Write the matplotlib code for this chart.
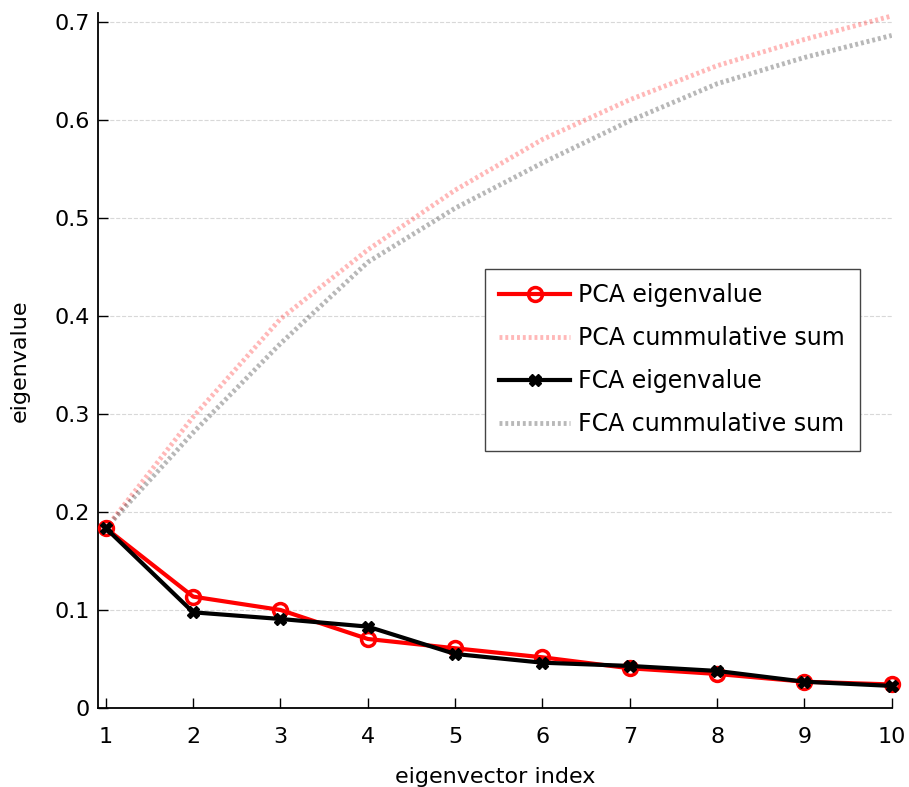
import numpy as np
import matplotlib
matplotlib.use("Agg")
import matplotlib.pyplot as plt

index = np.arange(1, 11)
pca_eig = [0.1834, 0.1136, 0.1000, 0.0704, 0.0609, 0.0517, 0.0405, 0.0347, 0.0268, 0.0240]
fca_eig = [0.1834, 0.0976, 0.0908, 0.0830, 0.0551, 0.0462, 0.0429, 0.0378, 0.0268, 0.0225]
pca_cum = np.cumsum(pca_eig)
fca_cum = np.cumsum(fca_eig)

plt.rcParams['font.family'] = 'DejaVu Sans'
fig = plt.figure(figsize=(9.09, 7.87), dpi=100)
ax = fig.add_axes([0.108, 0.1004, 0.873, 0.8831])

dots = (0, (0.6, 0.6))
ax.plot(index, pca_eig, color='red', lw=3, marker='o', ms=10, mfc='none',
        mew=2.5, label='PCA eigenvalue', clip_on=False, zorder=4)
ax.plot(index, pca_cum, color='red', lw=3.5, ls=dots, alpha=0.28,
        label='PCA cummulative sum')
ax.plot(index, fca_eig, color='black', lw=3, marker='X', ms=9,
        label='FCA eigenvalue', clip_on=False, zorder=5)
ax.plot(index, fca_cum, color='black', lw=3.5, ls=dots, alpha=0.28,
        label='FCA cummulative sum')

ax.set_xlim(0.912, 10.0)
ax.set_ylim(0, 0.709)
ax.set_xticks(index)
ax.set_yticks(np.arange(0, 0.71, 0.1))
ax.set_yticklabels(['0', '0.1', '0.2', '0.3', '0.4', '0.5', '0.6', '0.7'])
ax.tick_params(direction='in', length=7, width=1, labelsize=16)
ax.tick_params(axis='x', pad=14)
ax.tick_params(axis='y', pad=6)
ax.grid(axis='y', color='#d8d8d8', ls='--', lw=0.8)
ax.set_axisbelow(True)
for s in ['top', 'right']:
    ax.spines[s].set_visible(False)
for s in ['left', 'bottom']:
    ax.spines[s].set_linewidth(1.3)

ax.set_xlabel('eigenvector index', fontsize=16, labelpad=14)
ax.set_ylabel('eigenvalue', fontsize=16, labelpad=18)

leg = ax.legend(loc='upper left', bbox_to_anchor=(0.487, 0.632), borderaxespad=0,
                fontsize=17, fancybox=False, framealpha=1, edgecolor='#444444',
                handlelength=3.0, handletextpad=0.35, borderpad=0.62,
                labelspacing=0.8)
leg.get_frame().set_linewidth(1)

fig.savefig('out.png', dpi=100)
